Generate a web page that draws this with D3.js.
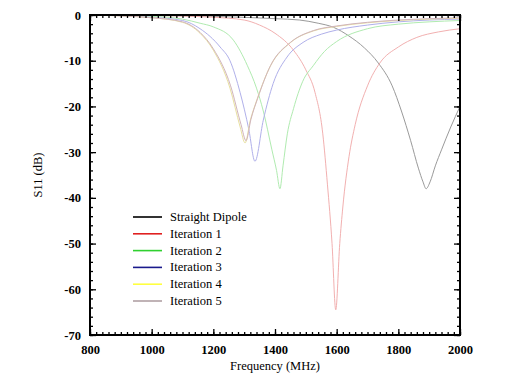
<!DOCTYPE html>
<html>
<head>
<meta charset="utf-8">
<script src="https://cdn.jsdelivr.net/npm/d3@7"></script>
<style>
  body { margin: 0; background: #fff; }
  svg text { font-family: "Liberation Serif", "DejaVu Serif", serif; }
</style>
</head>
<body>
<div class="viz"></div>
<script>
// series names and colours (legend)
var names = ["Straight Dipole", "Iteration 1", "Iteration 2", "Iteration 3", "Iteration 4", "Iteration 5"];
var legendColors = ["#000000", "#e02020", "#30d030", "#1a1a8c", "#ffff40", "#b0a0a4"];
var plotColors = ["#9a9a9a", "#f2b0b0", "#b0ebb0", "#b0b0ea", "#e8e0a0", "#d0b4bc"];

// frequency (MHz) / S11 (dB)
var dipoleF = [800, 1000, 1200, 1400, 1480, 1540, 1590, 1640, 1690, 1735, 1780, 1810, 1840, 1865, 1880, 1890, 1903, 1920, 1940, 1970, 2000];
var dipoleS = [0, -0.1, -0.3, -0.8, -1.1, -1.8, -2.7, -4.6, -7.2, -10.5, -15.5, -21, -27.5, -33.5, -36.5, -38, -36.5, -33, -29.5, -24.5, -20];

var it1F = [800, 1000, 1200, 1300, 1350, 1400, 1460, 1500, 1530, 1555, 1570, 1585, 1597, 1610, 1620, 1640, 1660, 1700, 1740, 1800, 1860, 1930, 2000];
var it1S = [0, -0.1, -0.5, -1.1, -2.2, -4, -7.7, -12, -17, -26, -37, -50, -64.5, -50, -42, -31, -24, -15.5, -10.5, -7, -4.9, -3.7, -3];

var it2F = [800, 1000, 1100, 1157, 1200, 1265, 1310, 1340, 1362, 1390, 1405, 1416, 1426, 1440, 1460, 1490, 1525, 1560, 1600, 1700, 1800, 1900, 2000];
var it2S = [0, -0.3, -0.9, -1.8, -2.6, -5.5, -11, -16, -21, -29.5, -34, -38, -33, -26, -20.5, -14.5, -11, -8, -5.8, -3, -2, -1.5, -1.2];

var it3F = [800, 1000, 1100, 1157, 1222, 1254, 1287, 1315, 1335, 1362, 1394, 1439, 1491, 1550, 1600, 1700, 1800, 1900, 2000];
var it3S = [0, -0.5, -1.2, -3, -7, -10, -17, -25, -32, -23, -15, -9.2, -6, -4.2, -3.3, -2.2, -1.5, -1.1, -0.9];

var it4F = [800, 1000, 1100, 1157, 1200, 1254, 1287, 1303, 1320, 1341, 1384, 1449, 1524, 1600, 1700, 1800, 1900, 2000];
var it4S = [0, -0.6, -1.6, -4, -7.7, -16, -24.5, -28, -23, -18.6, -11.3, -6.1, -3.5, -2.5, -1.7, -1.2, -0.9, -0.7];

var it5F = [800, 1000, 1100, 1157, 1200, 1256, 1290, 1306, 1322, 1344, 1386, 1450, 1525, 1600, 1700, 1800, 1900, 2000];
var it5S = [0, -0.6, -1.5, -3.8, -7.4, -15.5, -24, -27.5, -22.8, -18.2, -11, -6, -3.4, -2.4, -1.6, -1.1, -0.8, -0.6];

var seriesF = [dipoleF, it1F, it2F, it3F, it4F, it5F];
var seriesS = [dipoleS, it1S, it2S, it3S, it4S, it5S];

var xTicks = [800, 1000, 1200, 1400, 1600, 1800, 2000];
var yTicks = [0, -10, -20, -30, -40, -50, -60, -70];

var W = 517, H = 384;
var plotL = 90, plotR = 460, plotT = 15, plotB = 335;

var svg = d3.select(".viz").append("svg").attr("width", W).attr("height", H);

var x = d3.scaleLinear().domain([800, 2000]).range([plotL, plotR]);
var y = d3.scaleLinear().domain([-70, 0]).range([plotB, plotT]);

// curves
var line = d3.line().x(function (d) { return x(d[0]); }).y(function (d) { return y(d[1]); }).curve(d3.curveMonotoneX);
seriesF.forEach(function (fs, i) {
  var pts = fs.map(function (f, j) { return [f, seriesS[i][j]]; });
  svg.append("path")
    .attr("d", line(pts))
    .attr("fill", "none")
    .attr("stroke", plotColors[i])
    .attr("stroke-width", 1);
});

// axes, ticks inward on all four sides
var minorX = d3.range(800, 2001, 20);
var minorY = d3.range(-70, 1, 2);
var fmt = function (d) { return String(d).replace("-", "-"); };

function axisStyle(g) {
  g.select(".domain").remove();
  g.selectAll(".tick line").attr("stroke", "#000").attr("stroke-width", 1.3);
  g.selectAll(".tick text").attr("font-family", "Liberation Serif").attr("font-size", 12.5).attr("font-weight", "bold").attr("fill", "#000");
}

svg.append("g").attr("transform", "translate(0," + plotB + ")")
  .call(d3.axisBottom(x).tickValues(minorX).tickSize(-3).tickFormat(""))
  .call(axisStyle);
svg.append("g").attr("transform", "translate(0," + plotB + ")")
  .call(d3.axisBottom(x).tickValues(xTicks).tickSize(-6).tickPadding(10).tickFormat(fmt))
  .call(axisStyle);
svg.append("g").attr("transform", "translate(0," + plotT + ")")
  .call(d3.axisTop(x).tickValues(minorX).tickSize(-3).tickFormat(""))
  .call(axisStyle);
svg.append("g").attr("transform", "translate(0," + plotT + ")")
  .call(d3.axisTop(x).tickValues(xTicks).tickSize(-6).tickFormat(""))
  .call(axisStyle);

svg.append("g").attr("transform", "translate(" + plotL + ",0)")
  .call(d3.axisLeft(y).tickValues(minorY).tickSize(-3).tickFormat(""))
  .call(axisStyle);
svg.append("g").attr("transform", "translate(" + plotL + ",0)")
  .call(d3.axisLeft(y).tickValues(yTicks).tickSize(-6).tickPadding(9).tickFormat(fmt))
  .call(axisStyle);
svg.append("g").attr("transform", "translate(" + plotR + ",0)")
  .call(d3.axisRight(y).tickValues(minorY).tickSize(-3).tickFormat(""))
  .call(axisStyle);
svg.append("g").attr("transform", "translate(" + plotR + ",0)")
  .call(d3.axisRight(y).tickValues(yTicks).tickSize(-6).tickFormat(""))
  .call(axisStyle);

// frame
svg.append("rect")
  .attr("x", plotL).attr("y", plotT)
  .attr("width", plotR - plotL).attr("height", plotB - plotT)
  .attr("fill", "none").attr("stroke", "#000").attr("stroke-width", 2);

// axis titles
svg.append("text")
  .attr("x", (plotL + plotR) / 2).attr("y", 370)
  .attr("text-anchor", "middle").attr("font-size", 12.5)
  .text("Frequency (MHz)");
svg.append("text")
  .attr("transform", "translate(42," + (plotT + plotB) / 2 + ") rotate(-90)")
  .attr("text-anchor", "middle").attr("font-size", 12.5)
  .text("S11 (dB)");

// legend
var legend = svg.append("g").attr("transform", "translate(133,217)");
names.forEach(function (n, i) {
  var row = legend.append("g").attr("transform", "translate(0," + i * 16.8 + ")");
  row.append("line").attr("x1", 0).attr("x2", 29).attr("y1", 0).attr("y2", 0)
    .attr("stroke", legendColors[i]).attr("stroke-width", 1.6);
  row.append("text").attr("x", 37).attr("y", 4).attr("font-size", 12.5).text(n);
});
</script>
</body>
</html>
